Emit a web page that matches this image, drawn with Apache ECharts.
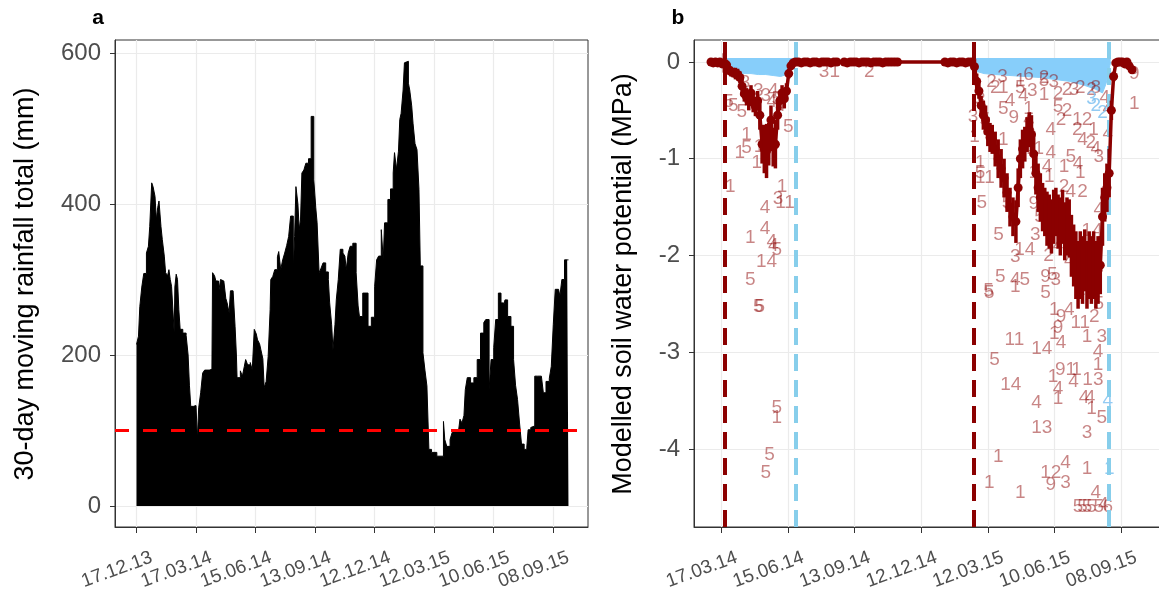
<!DOCTYPE html>
<html><head><meta charset="utf-8">
<script src="https://cdn.jsdelivr.net/npm/echarts@6/dist/echarts.min.js"></script>
<style>html,body{margin:0;padding:0;background:#fff}#c{width:1159px;height:590px}</style>
</head><body><div id="c"></div>
<script>
// ---------- Tick labels (days after 17.12.13) ----------
const aTickDays = [0, 90, 180, 270, 360, 450, 540, 630];
const aTickLabels = ['17.12.13','17.03.14','15.06.14','13.09.14','12.12.14','12.03.15','10.06.15','08.09.15'];
const bTickDays = [90, 180, 270, 360, 450, 540, 630];
const bTickLabels = ['17.03.14','15.06.14','13.09.14','12.12.14','12.03.15','10.06.15','08.09.15'];
const aYTicks = [0, 200, 400, 600];
const bYTicks = [0, -1, -2, -3, -4];

// ---------- Panel a: 30-day moving rainfall total (mm) ----------
const rainDay = [0,3,5,8,11,15,18,20,23,25,28,30,32,34,37,39,42,44,47,49,51,53,56,57,58,60,62,64,66,70,75,78,80,82,86,90,92,94,97,100,103,110,114,115,118,120,124,127,129,132,135,137,140,142,146,149,151,152,157,160,163,165,168,172,175,178,181,183,186,188,191,193,196,199,202,203,206,209,213,215,218,221,224,227,230,233,235,237,239,241,244,246,248,250,253,256,260,264,266,268,271,273,276,279,282,286,290,292,295,297,300,302,305,308,312,315,
  317,320,323,327,332,335,337,342,350,355,360,363,366,370,373,375,380,384,388,390,393,396,398,400,403,405,408,411,413,416,418,421,424,427,429,433,436,439,442,446,454,464,466,469,474,477,480,487,489,492,495,497,500,505,510,515,520,525,528,533,536,540,543,547,551,555,557,561,566,570,573,576,579,582,586,590,592,596,598,602,606,612,615,619,624,627,630,633,638,640,643,647,651,653];
const rainMm = [214,225,264,290,308,335,344,370,428,423,410,379,395,404,370,353,331,309,305,313,300,291,290,229,290,307,300,260,234,229,226,200,160,132,133,135,88,130,150,176,180,181,180,309,305,298,282,300,298,300,275,269,256,285,285,238,200,170,179,172,185,194,187,190,180,234,228,220,215,207,195,157,165,198,260,300,304,313,330,337,313,326,335,345,357,384,384,313,357,423,400,366,380,441,445,454,460,516,516,432,395,375,309,315,322,310,300,269,240,207,240,273,300,340,335,331,
  313,335,344,348,309,265,251,282,238,250,291,326,331,366,326,375,406,420,441,468,446,470,512,520,551,587,589,560,551,530,507,480,472,419,318,203,180,159,75,71,66,112,88,79,88,97,101,101,115,110,120,154,170,163,170,194,229,243,247,154,194,210,247,282,269,265,273,251,238,194,160,141,110,82,75,78,101,104,106,172,172,172,150,165,169,185,240,287,287,278,300,326,326,326];
const rainThreshold = 100;

// ---------- Panel b: modelled soil water potential (MPa) ----------
const bDays = [76,79,82,85,88,91,94,97,100,103,106,109,112,115,118,121,124,127,130,133,136,139,142,145,148,151,154,157,160,163,166,169,172,175,178,181,184,187,
  190,194,198,202,206,210,214,218,222,226,230,234,238,242,246,256,260,264,268,272,276,280,284,288,292,296,300,304,308,312,316,320,324,328,
  392,396,400,404,408,412,416,420,424,428,
  432,435,438,441,444,447,450,453,456,460,464,468,472,476,480,484,488,491,494,497,500,503,506,509,512,515,518,521,524,527,530,533,536,539,542,545,548,551,554,557,560,563,566,569,572,575,578,581,584,587,590,593,596,599,602,605,608,611,614,617,620,623,626,629,632,635,638,641,645];
const bMean = [0,-0.01,0,-0.01,0,-0.02,-0.01,-0.03,-0.08,-0.1,-0.11,-0.12,-0.13,-0.16,-0.25,-0.33,-0.36,-0.4,-0.32,-0.42,-0.46,-0.4,-0.55,-0.85,-0.9,-0.92,-0.85,-0.6,-0.88,-0.85,-0.55,-0.4,-0.32,-0.38,-0.3,-0.12,-0.04,-0.01,
  0,0,-0.01,0,0,-0.01,0,0,-0.01,0,0,0,-0.01,0,0,0,-0.01,0,0,0,-0.01,0,0,0,-0.01,0,0,0,-0.01,0,0,0,0,0,
  0,-0.01,0,0,-0.01,0,0,-0.01,0,0,
  -0.05,-0.2,-0.3,-0.45,-0.55,-0.6,-0.72,-0.78,-0.8,-0.9,-1.0,-1.1,-1.2,-1.35,-1.5,-1.6,-1.65,-1.3,-1.0,-0.9,-0.85,-0.75,-0.7,-0.75,-0.95,-1.15,-1.3,-1.4,-1.5,-1.55,-1.62,-1.65,-1.7,-1.6,-1.55,-1.65,-1.7,-1.6,-1.75,-1.7,-1.72,-1.9,-2.0,-2.1,-2.2,-2.1,-2.15,-2.05,-2.2,-2.1,-2.15,-2.1,-2.2,-2.15,-2.1,-1.6,-1.4,-1.3,-1.15,-0.5,-0.15,-0.01,0,0,0,-0.02,0,-0.04,-0.08];
const bSd = [0.03,0.03,0.03,0.03,0.03,0.03,0.1,0.04,0.05,0.05,0.05,0.06,0.06,0.06,0.08,0.08,0.09,0.1,0.08,0.1,0.1,0.1,0.15,0.2,0.25,0.28,0.22,0.15,0.2,0.25,0.15,0.1,0.08,0.1,0.08,0.05,0.03,0.02,
  0.02,0.02,0.02,0.02,0.02,0.02,0.02,0.02,0.02,0.02,0.02,0.02,0.02,0.02,0.02,0.02,0.02,0.02,0.02,0.02,0.02,0.02,0.02,0.02,0.02,0.02,0.02,0.02,0.02,0.02,0.02,0.02,0.02,0.02,
  0.03,0.03,0.03,0.03,0.03,0.03,0.03,0.03,0.03,0.03,
  0.08,0.08,0.08,0.1,0.15,0.15,0.15,0.15,0.15,0.18,0.2,0.2,0.2,0.2,0.2,0.2,0.22,0.2,0.2,0.2,0.18,0.18,0.18,0.2,0.22,0.22,0.25,0.25,0.25,0.25,0.28,0.28,0.28,0.28,0.25,0.28,0.3,0.28,0.3,0.3,0.3,0.32,0.32,0.35,0.35,0.35,0.35,0.32,0.35,0.35,0.35,0.35,0.35,0.35,0.3,0.3,0.25,0.25,0.25,0.1,0.05,0.03,0.03,0.03,0.03,0.03,0.03,0.03,0.04];
const blue1Day = [95,100,110,120,130,140,150,160,170,178,184,190];
const blue1Low = [-0.01,-0.07,-0.11,-0.12,-0.12,-0.13,-0.13,-0.14,-0.15,-0.13,-0.05,0];
const blue2Day = [431,436,445,460,480,500,520,540,560,580,595,605,610,613,616];
const blue2Low = [-0.01,-0.1,-0.12,-0.13,-0.14,-0.15,-0.16,-0.18,-0.2,-0.24,-0.28,-0.32,-0.22,-0.1,0];
const startLines = [94, 431];
const endLines = [190.5, 614];

// tree-number text labels: [day, MPa, text]
const labelsS1 = [[99.5,-0.41,'5'],[106,-0.45,'5'],[117.5,-0.51,'5'],[122,-0.22,'3'],[140,-0.3,'3'],[160,-0.3,'4'],[150,-0.35,'3'],[165,-0.38,'5'],[170,-0.45,'4'],[158,-0.41,'4'],[180.5,-0.67,'5'],
  [124,-0.75,'1'],[115,-0.94,'1'],[124,-0.89,'5'],[138,-1.04,'1'],[141,-0.88,'1'],[102,-1.29,'1'],[172,-1.29,'1'],[166.6,-1.41,'3'],[176,-1.46,'11'],
  [149,-1.51,'4'],[149,-1.72,'4'],[129,-1.82,'1'],[158,-1.86,'4'],[160,-1.9,'4'],[165,-1.94,'5'],[151,-2.06,'14'],[129,-2.25,'5'],[140,-2.53,'5'],[142,-2.53,'5'],
  [165,-3.57,'5'],[165,-3.68,'1'],[155,-4.06,'5'],[150,-4.25,'5'],[236,-0.1,'31'],[290,-0.1,'2']];
const labelsS2Low = [[452,-2.39,'5'],[486,-2.87,'11'],[459,-3.08,'5'],[523,-2.96,'14'],[481,-3.34,'14'],[516,-3.52,'4'],[523,-3.78,'13'],[464,-4.08,'1'],[452,-4.35,'1'],[494,-4.45,'1'],
  [535,-4.25,'12'],[535,-4.37,'9'],[555,-4.35,'3'],[555,-4.14,'4'],[584,-4.2,'1'],[596,-4.45,'4'],[572,-4.6,'5'],[578,-4.6,'5'],[584,-4.6,'5'],[590,-4.6,'5'],[600,-4.6,'5'],[606,-4.58,'4'],[612,-4.6,'6'],
  [604,-3.68,'5'],[584,-3.83,'3'],[580,-3.47,'4'],[588,-3.47,'4'],[590,-3.58,'1'],[592,-3.28,'13'],[599,-3.0,'4'],[599,-3.13,'1'],[604,-2.84,'3'],[584,-2.84,'1'],[575,-2.7,'11'],
  [545,-2.75,'9'],[549,-2.63,'9'],[549,-2.9,'4'],[540,-2.56,'1'],[560,-2.56,'4'],[555,-3.18,'91'],[570,-3.18,'1'],[538,-3.25,'1'],[566,-3.31,'4'],[545,-3.38,'4'],[545,-3.48,'1'],[594,-2.63,'2'],[540,-2.81,'1']];
const labelsS2Mid = [[464.6,-1.79,'5'],[514,-1.79,'3'],[500,-1.94,'14'],[487,-2.01,'3'],[467,-2.22,'5'],[487,-2.25,'4'],[500,-2.25,'5'],[451,-2.36,'5'],[528,-2.22,'9'],[528,-2.39,'5'],[487,-2.32,'1'],
  [537,-2.2,'5'],[542,-2.25,'3'],[520,-1.6,'5'],[532,-2.0,'2'],[560,-2.05,'4'],[575,-2.35,'1'],[595,-2.3,'9'],[600,-2.5,'5'],[590,-1.9,'4'],[545,-1.9,'4']];
const labelsS2High = [[439.6,-1.15,'5'],[446,-1.2,'11'],[440,-1.04,'1'],[442,-1.46,'5'],[476,-1.46,'5'],[512,-1.47,'9'],[600,-1.53,'4'],[591,-1.74,'14'],[512,-1.15,'1'],[530,-1.08,'4'],
  [553,-1.08,'1'],[562,-0.98,'5'],[572,-1.05,'4'],[575,-1.15,'1'],[578,-1.34,'2'],[562,-1.34,'4'],[553,-1.29,'2'],[533,-1.19,'1'],[535,-0.94,'4'],[589,-0.84,'2'],[596,-0.9,'4'],
  [571,-0.7,'2'],[578,-0.8,'4'],[600,-0.98,'3'],[593,-0.7,'1'],[612,-0.74,'4'],[584,-0.6,'2'],[571,-0.6,'1'],[557,-0.5,'2'],[545,-0.46,'5'],[549,-0.6,'2'],[535,-0.7,'4'],
  [526,-0.34,'1'],[545,-0.33,'2'],[566.6,-0.29,'3'],[557,-0.29,'2'],[539,-0.2,'3'],[575,-0.27,'2'],[590,-0.29,'2'],[596,-0.27,'8'],[608,-0.37,'4'],[612,-0.48,'4'],[526,-0.19,'5'],
  [505,-0.13,'6'],[526,-0.16,'2'],[494,-0.19,'1'],[494,-0.27,'5'],[471,-0.27,'1'],[460,-0.27,'2'],[471,-0.48,'5'],[505,-0.48,'1'],[505,-0.6,'4'],[507,-0.7,'5'],[485,-0.58,'9'],
  [446,-0.6,'5'],[440,-0.39,'3'],[430,-0.57,'3'],[432,-0.77,'1'],[471,-0.8,'1'],[502,-0.9,'4'],[519,-0.9,'1'],[648,-0.43,'1'],[648,-0.12,'9'],[498,-0.35,'4'],[510,-0.3,'3'],
  [480,-0.4,'4'],[455,-0.2,'2'],[470,-0.15,'3']];
const labelsBlue = [[596,-0.45,'2'],[590,-0.38,'3'],[605,-0.52,'2'],[612,-3.5,'4'],[614,-4.2,'1']];

// ---------- build chart ----------
const FONT = '"Liberation Sans", Arial, sans-serif';
const zip = (xs, ys) => xs.map((x, i) => [x, ys[i]]);
const allLabels = labelsS1.concat(labelsS2Low, labelsS2Mid, labelsS2High);
const DARKRED = '#8B0000', BLUE = '#87CEFA', GRID = '#EBEBEB', TICK = '#4D4D4D';

function xAxisDef(idx, min, max, days) {
  return {
    gridIndex: idx, type: 'value', min: min, max: max, position: 'bottom',
    axisLine: {show: true, onZero: false, lineStyle: {color: '#333', width: 1}},
    axisTick: {show: true, customValues: days, length: 6, lineStyle: {color: '#333'}},
    axisLabel: {show: false},
    splitLine: {show: true, lineStyle: {color: GRID, width: 1.2}}
  };
}
// label-only axis, offset so that rotated labels end just right of their tick (as in ggplot)
function xLabelAxisDef(idx, min, max, shift, days, labels) {
  return {
    gridIndex: idx, type: 'value', min: min - shift, max: max - shift, position: 'bottom',
    axisLine: {show: false}, axisTick: {show: false}, splitLine: {show: false},
    axisLabel: {customValues: days, formatter: v => labels[days.indexOf(v)], rotate: 20,
      fontSize: 19, color: TICK, fontFamily: FONT, margin: 30}
  };
}
function yAxisDef(idx, min, max, ticks) {
  return {
    gridIndex: idx, type: 'value', min: min, max: max,
    axisLine: {show: true, onZero: false, lineStyle: {color: '#333', width: 1}},
    axisTick: {show: true, customValues: ticks, length: 5, lineStyle: {color: '#333'}},
    axisLabel: {customValues: ticks, fontSize: 24, color: TICK, fontFamily: FONT, margin: 14},
    splitLine: {show: true, lineStyle: {color: GRID, width: 1.2}}
  };
}
function textSeries(data, color) {
  return {
    type: 'custom', xAxisIndex: 1, yAxisIndex: 1, z: 3, silent: true,
    data: data.map(d => [d[0], d[1]]),
    renderItem: (params, api) => {
      const p = api.coord([api.value(0), api.value(1)]);
      return {type: 'text', x: p[0], y: p[1], style: {text: data[params.dataIndex][2], fill: color,
        font: '19px ' + FONT, align: 'center', verticalAlign: 'middle'}};
    }
  };
}

const aMin = -32.5, aMax = 682.5, bMin = 53, bMax = 701.6;
const chart = echarts.init(document.getElementById('c'), null, {renderer: 'canvas'});
chart.setOption({
  animation: false,
  backgroundColor: '#fff',
  grid: [
    {left: 115, top: 40, width: 473, height: 487, show: true, borderColor: '#333', borderWidth: 1, containLabel: false, outerBoundsMode: 'none'},
    {left: 694, top: 40, width: 480, height: 487, show: true, borderColor: '#333', borderWidth: 1, containLabel: false, outerBoundsMode: 'none'}
  ],
  xAxis: [
    xAxisDef(0, aMin, aMax, aTickDays),
    xAxisDef(1, bMin, bMax, bTickDays),
    xLabelAxisDef(0, aMin, aMax, 23, aTickDays, aTickLabels),
    xLabelAxisDef(1, bMin, bMax, 20.5, bTickDays, bTickLabels)
  ],
  yAxis: [yAxisDef(0, -27.8, 617.2, aYTicks), yAxisDef(1, -4.806, 0.227, bYTicks)],
  graphic: [
    {type: 'text', x: 98, y: 18, style: {text: 'a', font: 'bold 21px ' + FONT, fill: '#000', align: 'center', verticalAlign: 'middle'}},
    {type: 'text', x: 678, y: 18, style: {text: 'b', font: 'bold 21px ' + FONT, fill: '#000', align: 'center', verticalAlign: 'middle'}},
    {type: 'text', x: 26, y: 284, rotation: Math.PI / 2, style: {text: '30-day moving rainfall total (mm)', font: '27px ' + FONT, fill: '#000', align: 'center', verticalAlign: 'middle'}},
    {type: 'text', x: 624, y: 284, rotation: Math.PI / 2, style: {text: 'Modelled soil water potential (MPa)', font: '27px ' + FONT, fill: '#000', align: 'center', verticalAlign: 'middle'}}
  ],
  series: [
    {type: 'line', xAxisIndex: 0, yAxisIndex: 0, data: zip(rainDay, rainMm), step: 'end', symbol: 'none',
      lineStyle: {color: '#000', width: 1}, areaStyle: {color: '#000', opacity: 1}, z: 2,
      markLine: {silent: true, symbol: 'none', label: {show: false}, animation: false,
        lineStyle: {color: '#FF0000', width: 3, type: [14, 14]}, data: [{yAxis: rainThreshold}]}},
    {type: 'line', xAxisIndex: 1, yAxisIndex: 1, data: zip(blue1Day, blue1Low), symbol: 'none', z: 2,
      lineStyle: {color: BLUE, width: 1}, areaStyle: {color: BLUE, opacity: 1, origin: 0.04}},
    {type: 'line', xAxisIndex: 1, yAxisIndex: 1, data: zip(blue2Day, blue2Low), symbol: 'none', z: 2,
      lineStyle: {color: BLUE, width: 1}, areaStyle: {color: BLUE, opacity: 1, origin: 0.04}},
    textSeries(allLabels, 'rgba(139,0,0,0.48)'),
    textSeries(labelsBlue, 'rgba(120,190,240,0.8)'),
    {type: 'line', xAxisIndex: 1, yAxisIndex: 1, data: zip(bDays, bMean), symbol: 'circle', symbolSize: 9, z: 5,
      itemStyle: {color: DARKRED}, lineStyle: {color: DARKRED, width: 3.5},
      markLine: {silent: true, symbol: 'none', label: {show: false}, animation: false,
        data: startLines.map(d => ({xAxis: d, lineStyle: {color: DARKRED, width: 4, type: [17, 9]}}))
          .concat(endLines.map(d => ({xAxis: d, lineStyle: {color: '#87CEEB', width: 4, type: [17, 9]}})))}},
    {type: 'custom', xAxisIndex: 1, yAxisIndex: 1, z: 6, silent: true,
      data: bDays.map((d, i) => [d, bMean[i] - bSd[i], bMean[i] + bSd[i]]),
      encode: {x: 0, y: [1, 2]},
      renderItem: (params, api) => {
        const a = api.coord([api.value(0), api.value(1)]);
        const b = api.coord([api.value(0), api.value(2)]);
        return {type: 'line', shape: {x1: a[0], y1: a[1], x2: b[0], y2: b[1]}, style: {stroke: DARKRED, lineWidth: 3.5}};
      }}
  ]
});
</script></body></html>
